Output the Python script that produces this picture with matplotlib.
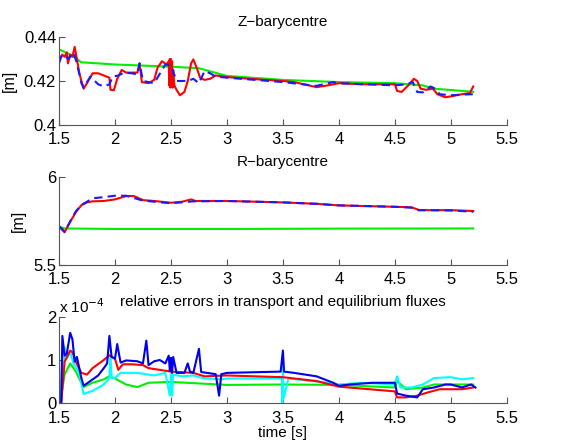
import matplotlib
matplotlib.use("Agg")
import matplotlib.pyplot as plt

plt.rcParams["font.family"] = ["Liberation Sans", "DejaVu Sans"]

# ----- Z-barycentre [m] -----
z_t_red = [1.50, 1.53, 1.55, 1.57, 1.58, 1.60, 1.62, 1.64, 1.66, 1.68, 1.70, 1.72, 1.75, 1.80, 1.85,
           1.90, 1.95, 1.96, 1.99, 2.02, 2.06, 2.10, 2.20, 2.22, 2.24, 2.30, 2.35, 2.38, 2.42, 2.46,
           2.48, 2.485, 2.49, 2.495, 2.50, 2.505, 2.51, 2.515, 2.52, 2.53, 2.55, 2.58, 2.62, 2.65,
           2.68, 2.70, 2.73, 2.76, 2.80, 2.85, 2.90, 3.00, 3.20, 3.50, 3.60, 3.80, 3.90, 4.00, 4.20,
           4.50, 4.52, 4.56, 4.62, 4.67, 4.70, 4.73, 4.78, 4.84, 4.88, 4.95, 5.00, 5.10, 5.17, 5.19, 5.20]
z_red = [0.430, 0.432, 0.431, 0.433, 0.428, 0.432, 0.431, 0.4355, 0.430, 0.424, 0.420, 0.4165, 0.419,
         0.4235, 0.4235, 0.4225, 0.4215, 0.416, 0.4158, 0.421, 0.425, 0.4238, 0.4238, 0.428, 0.4195,
         0.419, 0.4205, 0.426, 0.429, 0.4275, 0.429, 0.418, 0.430, 0.417, 0.430, 0.418, 0.429, 0.417,
         0.425, 0.418, 0.416, 0.4135, 0.415, 0.420, 0.428, 0.4298, 0.426, 0.4215, 0.4205, 0.421, 0.4225,
         0.4218, 0.421, 0.420, 0.4195, 0.4172, 0.418, 0.419, 0.4185, 0.4185, 0.4155, 0.415, 0.418,
         0.421, 0.420, 0.4165, 0.416, 0.4165, 0.414, 0.4126, 0.413, 0.414, 0.4145, 0.4165, 0.4175]
z_t_blue = [1.50, 1.52, 1.55, 1.58, 1.60, 1.63, 1.66, 1.70, 1.72, 1.78, 1.85, 1.90, 1.95, 1.98, 2.03,
            2.08, 2.15, 2.20, 2.22, 2.25, 2.35, 2.45, 2.50, 2.55, 2.65, 2.70, 2.75, 2.80, 2.85, 2.90,
            3.00, 3.50, 3.80, 3.95, 4.00, 4.50, 4.60, 4.66, 4.70, 4.75, 4.82, 4.86, 4.90, 5.00, 5.10, 5.20]
z_blue = [0.428, 0.431, 0.432, 0.430, 0.431, 0.433, 0.428, 0.419, 0.417, 0.422, 0.4185, 0.4175, 0.4185,
          0.422, 0.4225, 0.4238, 0.4235, 0.423, 0.428, 0.420, 0.419, 0.4275, 0.427, 0.420, 0.420, 0.421,
          0.419, 0.4245, 0.4235, 0.422, 0.4215, 0.4195, 0.4178, 0.4195, 0.419, 0.418, 0.4185, 0.4195,
          0.4150, 0.4148, 0.4175, 0.4165, 0.414, 0.4135, 0.4138, 0.414]
z_t_green = [1.50, 1.60, 1.70, 2.00, 2.50, 2.75, 3.00, 3.50, 4.00, 4.50, 4.75, 4.85, 5.20]
z_green = [0.4344, 0.432, 0.4285, 0.4275, 0.4265, 0.4258, 0.4223, 0.4205, 0.4195, 0.419, 0.418, 0.4165, 0.4151]

# ----- R-barycentre [m] -----
r_t_red = [1.50, 1.55, 1.60, 1.65, 1.70, 1.75, 1.80, 1.90, 2.00, 2.10, 2.17, 2.25, 2.35, 2.50, 2.60,
           2.68, 2.72, 3.00, 3.50, 3.80, 4.00, 4.50, 4.65, 4.72, 5.00, 5.20]
r_red = [5.718, 5.686, 5.746, 5.800, 5.840, 5.856, 5.862, 5.864, 5.873, 5.892, 5.892, 5.869, 5.864,
         5.854, 5.860, 5.873, 5.864, 5.864, 5.856, 5.848, 5.839, 5.831, 5.828, 5.812, 5.812, 5.807]
r_t_blue = [1.50, 1.55, 1.60, 1.65, 1.70, 1.75, 1.80, 1.90, 2.00, 2.10, 2.25, 2.50, 2.70, 3.00, 3.50,
            3.80, 4.00, 4.50, 4.65, 4.70, 5.00, 5.20]
r_blue = [5.722, 5.690, 5.748, 5.805, 5.842, 5.860, 5.879, 5.886, 5.894, 5.894, 5.866, 5.851, 5.862,
          5.864, 5.856, 5.848, 5.839, 5.831, 5.826, 5.812, 5.810, 5.803]
r_t_green = [1.50, 1.55, 2.00, 3.00, 4.00, 5.20]
r_green = [5.718, 5.708, 5.705, 5.705, 5.707, 5.708]

# ----- relative errors (units of 1e-4) -----
e_t_blue = [1.52, 1.53, 1.55, 1.57, 1.60, 1.62, 1.64, 1.66, 1.70, 1.72, 1.78, 1.85, 1.90, 1.93, 1.95,
            1.97, 2.00, 2.02, 2.05, 2.10, 2.20, 2.25, 2.28, 2.30, 2.35, 2.40, 2.45, 2.48, 2.49, 2.50,
            2.51, 2.52, 2.55, 2.62, 2.65, 2.67, 2.70, 2.75, 2.77, 2.90, 2.93, 2.95, 3.00, 3.48, 3.50,
            3.51, 3.60, 3.80, 3.95, 4.00, 4.10, 4.30, 4.50, 4.52, 4.60, 4.70, 4.75, 4.85, 4.95, 5.00,
            5.10, 5.18, 5.22]
e_blue = [0.0, 1.56, 1.10, 1.15, 1.63, 1.48, 0.96, 1.07, 0.58, 0.40, 0.51, 0.64, 0.81, 0.92, 1.56,
          1.07, 1.03, 1.37, 0.94, 0.99, 0.97, 0.92, 1.45, 0.88, 0.97, 1.00, 0.92, 1.10, 0.75, 1.05,
          0.70, 1.07, 0.70, 0.70, 0.92, 0.73, 0.70, 1.26, 0.72, 0.67, 0.17, 0.67, 0.70, 0.73, 1.22,
          0.73, 0.70, 0.62, 0.47, 0.40, 0.43, 0.47, 0.47, 0.22, 0.17, 0.13, 0.32, 0.36, 0.43, 0.43,
          0.36, 0.43, 0.36]
e_t_red = [1.52, 1.55, 1.60, 1.62, 1.65, 1.70, 1.75, 1.80, 1.90, 1.95, 2.00, 2.03, 2.07, 2.15, 2.25,
           2.30, 2.50, 2.70, 2.80, 3.00, 3.50, 3.80, 4.00, 4.50, 4.52, 4.60, 4.70, 4.80, 4.90, 5.00,
           5.10, 5.20]
e_red = [0.0, 0.96, 1.22, 1.18, 0.96, 0.70, 0.66, 0.81, 1.00, 1.11, 1.03, 0.77, 0.90, 0.90, 0.88,
         0.81, 0.73, 0.70, 0.62, 0.64, 0.60, 0.51, 0.38, 0.27, 0.13, 0.13, 0.17, 0.25, 0.32, 0.32,
         0.32, 0.36]
e_t_cyan = [1.52, 1.55, 1.57, 1.60, 1.63, 1.68, 1.72, 1.80, 1.90, 1.95, 1.96, 1.97, 2.00, 2.05, 2.20,
            2.35, 2.45, 2.49, 2.50, 2.51, 2.52, 2.60, 2.70, 2.80, 2.95, 3.00, 3.49, 3.495, 3.50, 3.505,
            3.55, 3.90, 4.00, 4.20, 4.50, 4.52, 4.55, 4.65, 4.75, 4.85, 5.00, 5.10, 5.20]
e_cyan = [0.0, 1.30, 1.03, 1.18, 0.92, 0.70, 0.21, 0.28, 0.43, 0.58, 1.11, 0.58, 0.58, 0.70, 0.70,
          0.64, 0.70, 0.17, 0.70, 0.17, 0.66, 0.62, 0.64, 0.57, 0.55, 0.57, 0.57, 0.0, 1.11, 0.10,
          0.57, 0.47, 0.43, 0.47, 0.43, 0.62, 0.36, 0.36, 0.43, 0.58, 0.60, 0.55, 0.58]
e_t_green = [1.50, 1.51, 1.55, 1.60, 1.65, 1.72, 1.80, 1.90, 1.95, 2.00, 2.10, 2.20, 2.30, 2.50, 3.00,
             3.50, 4.00, 4.50, 4.52, 4.60, 4.75, 4.85, 5.00, 5.20]
e_green = [0.85, 0.0, 0.66, 0.92, 0.73, 0.37, 0.47, 0.55, 0.62, 0.57, 0.43, 0.37, 0.47, 0.49, 0.42,
           0.43, 0.42, 0.36, 0.51, 0.32, 0.36, 0.43, 0.43, 0.43]

xticks = [1.5, 2, 2.5, 3, 3.5, 4, 4.5, 5, 5.5]
xticklabels = ["1.5", "2", "2.5", "3", "3.5", "4", "4.5", "5", "5.5"]

fig = plt.figure(figsize=(5.64, 4.41), dpi=100)
ax1 = fig.add_axes([0.1046, 0.7166, 0.794, 0.1995])
ax2 = fig.add_axes([0.1046, 0.399, 0.794, 0.1995])
ax3 = fig.add_axes([0.1046, 0.0862, 0.794, 0.195])

def style(ax):
    for s in ["top", "right"]:
        ax.spines[s].set_visible(False)
    for s in ["left", "bottom"]:
        ax.spines[s].set_color("#555555")
    ax.tick_params(direction="in", length=4, colors="#555555", labelcolor="black", labelsize=12)
    ax.tick_params(axis="x", pad=5)
    ax.tick_params(axis="y", pad=2)
    ax.set_xlim(1.5, 5.5)
    ax.set_xticks(xticks)
    ax.set_xticklabels(xticklabels)

ax1.plot(z_t_green, z_green, color="#00ee00", lw=1.5)
ax1.plot(z_t_red, z_red, color="red", lw=1.5)
ax1.plot(z_t_blue, z_blue, color="#1a1aff", lw=1.5, ls=(0, (4, 2.5)))
style(ax1)
ax1.set_ylim(0.4, 0.44)
ax1.set_yticks([0.4, 0.42, 0.44])
ax1.set_yticklabels(["0.4", "0.42", "0.44"])
ax1.set_ylabel("[m]", fontsize=11.5)
ax1.yaxis.set_label_coords(-0.094, 0.5)
ax1.set_title("Z\u2212barycentre", fontsize=11, pad=8)

ax2.plot(r_t_green, r_green, color="#00ee00", lw=1.5)
ax2.plot(r_t_red, r_red, color="red", lw=1.5)
ax2.plot(r_t_blue, r_blue, color="#1a1aff", lw=1.5, ls=(0, (4, 2.5)))
style(ax2)
ax2.set_ylim(5.5, 6)
ax2.set_yticks([5.5, 6])
ax2.set_yticklabels(["5.5", "6"])
ax2.set_ylabel("[m]", fontsize=11.5)
ax2.yaxis.set_label_coords(-0.074, 0.5)
ax2.set_title("R\u2212barycentre", fontsize=11, pad=8)

ax3.plot(e_t_green, e_green, color="#00ee00", lw=1.5)
ax3.plot(e_t_cyan, e_cyan, color="cyan", lw=1.5)
ax3.plot(e_t_red, e_red, color="red", lw=1.5)
ax3.plot(e_t_blue, e_blue, color="#0000ee", lw=1.5)
style(ax3)
ax3.tick_params(axis="x", pad=6)
ax3.set_ylim(0, 2)
ax3.set_yticks([0, 1, 2])
ax3.set_yticklabels(["0", "1", "2"])
ax3.set_title("relative errors in transport and equilibrium fluxes", fontsize=11, pad=8)
ax3.text(0.0, 1.01, "x 10$^{-4}$", transform=ax3.transAxes, fontsize=11, ha="left", va="bottom")
ax3.set_xlabel("time [s]", fontsize=11, labelpad=0)

fig.savefig("out.png", dpi=100)
